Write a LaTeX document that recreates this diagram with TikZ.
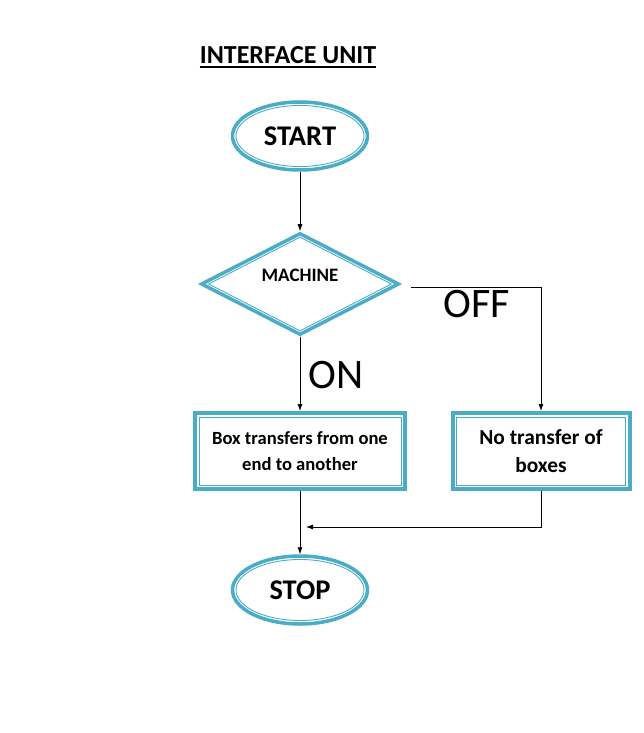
\documentclass[tikz,border=0pt]{standalone}
\usepackage{fontspec}
\setmainfont{Carlito}
\usepackage{tikz}
\usetikzlibrary{shapes.geometric, arrows.meta}
\definecolor{flowc}{RGB}{75,172,198}

\begin{document}
\begin{tikzpicture}[x=1pt,y=-1pt]
\tikzstyle{term}=[ellipse,draw=flowc,line width=3.5pt,minimum width=135pt,minimum height=68pt,inner sep=0pt]
\tikzstyle{termin}=[ellipse,draw=flowc,line width=0.9pt,minimum width=128pt,minimum height=61pt,inner sep=0pt,font=\bfseries\fontsize{28.5}{34}\selectfont]
\tikzstyle{decision}=[diamond,draw=flowc,line width=3.5pt,minimum width=198pt,minimum height=102pt,inner sep=0pt]
\tikzstyle{decisionin}=[diamond,draw=flowc,line width=0.9pt,minimum width=183pt,minimum height=94pt,inner sep=0pt]
\tikzstyle{process}=[rectangle,draw=flowc,line width=4pt,minimum height=76pt,inner sep=0pt]
\tikzstyle{processin}=[rectangle,draw=flowc,line width=0.9pt,minimum height=68pt,inner sep=0pt,align=center]
\tikzstyle{flow}=[draw,line width=0.8pt,-{Latex[length=7pt,width=5pt]}]
\useasboundingbox (0,0) rectangle (644,733);

\node[inner sep=0pt,font=\bfseries\fontsize{26}{31}\selectfont] (title) at (288,55) {INTERFACE UNIT};
\draw[line width=1.6pt] ([yshift=-3pt]title.south west) -- ([yshift=-3pt]title.south east);

\node[term] (start) at (300,136) {};
\node[termin] (startin) at (start) {START};
\node[decision] (mach) at (300,284) {};
\node[decisionin] (machin) at (mach) {};
\node[font=\bfseries\fontsize{19}{23}\selectfont] (machtxt) at (300,275) {MACHINE};
\node[process,minimum width=210pt] (box1) at (300,451) {};
\node[processin,minimum width=202pt,font=\bfseries\fontsize{18.6}{26}\selectfont] (box1in) at (box1) {Box transfers from one\\end to another};
\node[process,minimum width=177pt] (box2) at (541,451) {};
\node[processin,minimum width=169pt,font=\bfseries\fontsize{21.4}{28}\selectfont] (box2in) at (box2) {No transfer of\\boxes};
\node[term] (stop) at (300,590) {};
\node[termin] (stopin) at (stop) {STOP};
\node[font=\fontsize{42}{48}\selectfont] (off) at (477,304) {OFF};
\node[font=\fontsize{42}{48}\selectfont] (on) at (336,375) {ON};
\coordinate (join) at (306,527);

\draw[flow] (start) -- (mach);
\draw[flow] (mach) -- (box1);
\draw[flow,shorten <=10pt] ([yshift=-3pt]mach.east) -| (box2);
\draw[flow] (box1) -- (stop);
\draw[flow] (box2) |- (join);
\end{tikzpicture}
\end{document}
